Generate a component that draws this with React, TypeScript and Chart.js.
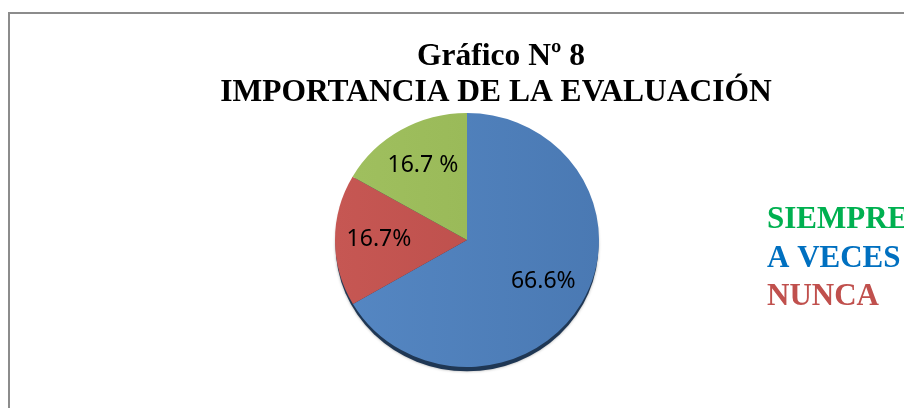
import React, { useEffect, useRef } from "react";
import { Chart, registerables } from "chart.js";

Chart.register(...registerables);

// ---- data ----
const categories = ["A VECES", "NUNCA", "SIEMPRE"];
const values = [66.6, 16.7, 16.7];
const valueLabels = ["66.6%", "16.7%", "16.7 %"];
const sliceColors = ["#4F81BD", "#C0504D", "#9BBB59"];
const sliceLight = ["#5587C3", "#C65753", "#A0C05F"];
const sliceDark = ["#4A79B3", "#B84B48", "#94B453"];

const legendNames = ["SIEMPRE", "A VECES", "NUNCA"];
const legendColors = ["#00B050", "#0070C0", "#C0504D"];

const titleLines = ["Gráfico Nº 8", "IMPORTANCIA DE LA EVALUACIÓN"];

const Y_SCALE = 0.962;

const decorPlugin = {
  id: "decor",
  beforeDraw(chart: any) {
    const ctx = chart.ctx;
    ctx.save();
    ctx.fillStyle = "#ffffff";
    ctx.fillRect(0, 0, chart.width, chart.height);
    // frame
    ctx.strokeStyle = "#8C8C8C";
    ctx.lineWidth = 2;
    ctx.beginPath();
    ctx.moveTo(9, chart.height + 2);
    ctx.lineTo(9, 13);
    ctx.lineTo(chart.width + 2, 13);
    ctx.stroke();
    // title
    ctx.fillStyle = "#000000";
    ctx.font = "bold 31.5px 'Liberation Serif', 'Times New Roman', serif";
    ctx.textAlign = "center";
    ctx.textBaseline = "alphabetic";
    ctx.fillText(titleLines[0], 501, 65);
    ctx.fillText(titleLines[1], 496, 101);
    // legend
    ctx.textAlign = "left";
    ctx.font = "bold 31px 'Liberation Serif', 'Times New Roman', serif";
    legendNames.forEach((n, i) => {
      ctx.fillStyle = legendColors[i];
      ctx.fillText(n, 767, 228 + i * 38.5);
    });
    ctx.restore();
  },
  beforeDatasetsDraw(chart: any) {
    const ctx = chart.ctx;
    const meta = chart.getDatasetMeta(0);
    const arc = meta.data[0];
    if (!arc) return;
    const { x, y, outerRadius } = arc.getProps(["x", "y", "outerRadius"], true);
    ctx.save();
    ctx.translate(x, y);
    ctx.scale(1, Y_SCALE);
    ctx.translate(-x, -y);
    // bottom shadow
    ctx.save();
    ctx.fillStyle = "#1F3754";
    ctx.shadowColor = "rgba(0,0,0,0.35)";
    ctx.shadowBlur = 3;
    ctx.beginPath();
    ctx.arc(x, y + 5, outerRadius - 0.5, 0, Math.PI * 2);
    ctx.fill();
    ctx.restore();
  },
  afterDatasetsDraw(chart: any) {
    const ctx = chart.ctx;
    ctx.restore();
    const meta = chart.getDatasetMeta(0);
    ctx.save();
    ctx.fillStyle = "#000000";
    ctx.font = "23px 'Noto Sans', 'Open Sans', sans-serif";
    ctx.textAlign = "center";
    ctx.textBaseline = "middle";
    meta.data.forEach((a: any, i: number) => {
      const p = a.getProps(["x", "y", "startAngle", "endAngle", "outerRadius"], true);
      const mid = (p.startAngle + p.endAngle) / 2;
      const r = p.outerRadius * 0.667;
      const tx = p.x + Math.cos(mid) * r;
      const ty = p.y + Math.sin(mid) * r * Y_SCALE - 1;
      ctx.fillText(valueLabels[i], tx, ty);
    });
    ctx.restore();
  },
};

export default function App() {
  const ref = useRef<HTMLCanvasElement>(null);
  useEffect(() => {
    if (!ref.current) return;
    const chart = new Chart(ref.current, {
      type: "pie",
      data: {
        labels: categories,
        datasets: [
          {
            data: values,
            borderWidth: 0,
            backgroundColor: (c: any) => {
              const i = c.dataIndex ?? 0;
              const area = c.chart.chartArea;
              if (!area) return sliceColors[i];
              const g = c.chart.ctx.createLinearGradient(area.left, 0, area.right, 0);
              g.addColorStop(0, sliceLight[i]);
              g.addColorStop(1, sliceDark[i]);
              return g;
            },
          },
        ],
      },
      options: {
        responsive: false,
        animation: false,
        rotation: 0,
        layout: { padding: { left: 335, right: 305, top: 108, bottom: 36 } },
        plugins: {
          legend: { display: false },
          tooltip: { enabled: false },
          title: { display: false },
        },
      },
      plugins: [decorPlugin],
    });
    return () => chart.destroy();
  }, []);
  return (
    <div style={{ position: "absolute", left: 0, top: 0, width: 904, height: 408 }}>
      <canvas ref={ref} width={904} height={408} />
    </div>
  );
}
